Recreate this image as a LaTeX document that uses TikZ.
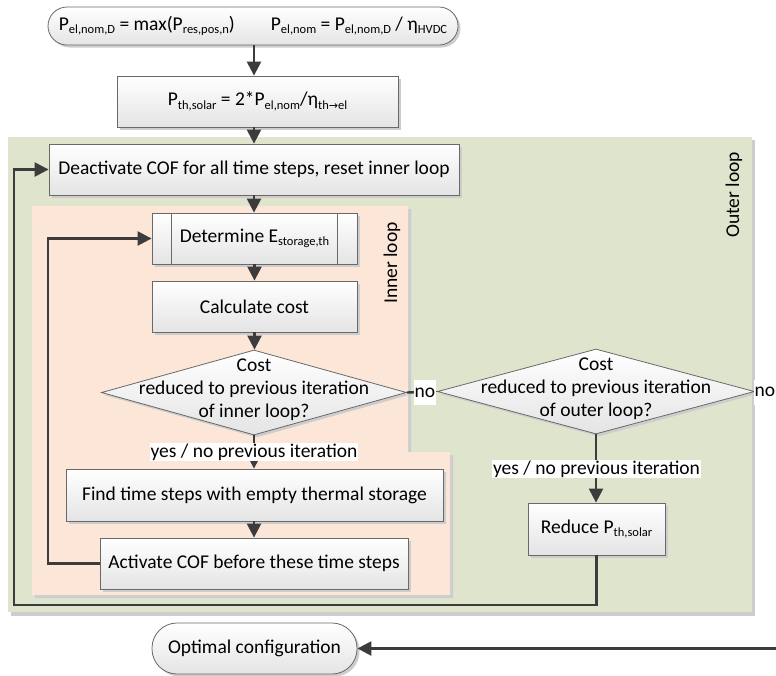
\documentclass[tikz,border=0pt]{standalone}
\usepackage{fontspec}
\setmainfont{Carlito}
\newfontfamily\djv{DejaVu Sans}
\usetikzlibrary{arrows.meta,shadows,calc,shapes.geometric}
\newcommand\subs[1]{\raisebox{-3.5pt}{\fontsize{12.5}{12.5}\selectfont #1}}
\definecolor{outerbg}{RGB}{223,228,205}
\definecolor{innerbg}{RGB}{251,230,216}
\definecolor{shadowgray}{RGB}{205,205,205}
\definecolor{boxborder}{RGB}{105,105,105}
\definecolor{boxbottom}{RGB}{228,228,228}
\definecolor{linegray}{RGB}{60,60,60}
\begin{document}
\begin{tikzpicture}[x=1pt,y=-1pt,
  font=\fontsize{19.5}{23}\selectfont,
  conn/.style={draw=linegray, line width=2.4pt},
  arr/.style={conn, -{Triangle[length=14pt,width=14pt]}},
  shd/.style={drop shadow={shadow xshift=2.5pt, shadow yshift=-2.5pt, fill=shadowgray, opacity=1}},
  box/.style={draw=boxborder, line width=0.8pt, top color=white, bottom color=boxbottom,
    inner sep=0pt, align=center, shd},
  term/.style={box, rounded corners=25pt},
  dec/.style={shape=diamond, draw=boxborder, line width=0.8pt, top color=white, bottom color=boxbottom,
    inner sep=0pt, shd},
  dectext/.style={align=center, inner sep=0pt},
  lab/.style={fill=white, inner sep=1pt},
  nolab/.style={fill=white, inner sep=0.5pt, minimum height=25pt},
  looplab/.style={rotate=90, inner sep=0pt}
]
\clip (0,0) rectangle (776,675);
\fill[white] (0,0) rectangle (776,675);
% regions
\fill[shadowgray] (11,140) rectangle (755,616);
\fill[outerbg] (8,137) rectangle (752,612);
\fill[shadowgray] (35,209) -- (411,209) -- (411,455) -- (453,455) -- (453,598) -- (35,598) -- cycle;
\fill[innerbg] (32,206) -- (408,206) -- (408,452) -- (450,452) -- (450,595) -- (32,595) -- cycle;
\node[looplab] (ol) at (734,195) {Outer loop};
\node[looplab] (il) at (392,263) {Inner loop};
% nodes
\node[term, minimum width=410, minimum height=38, rounded corners=19pt] (t1) at (253,26)
  {P\subs{el,nom,D} = max(P\subs{res,pos,n})\hspace{36pt}P\subs{el,nom} = P\subs{el,nom,D} / η\subs{HVDC}};
\node[box, minimum width=281, minimum height=51] (b2) at (257.5,101.5)
  {P\subs{th,solar} = 2*P\subs{el,nom}/η\subs{th{\djv\fontsize{11}{11}\selectfont →}el}};
\node[box, minimum width=410, minimum height=51] (deact) at (254,169.5)
  {Deactivate COF for all time steps, reset inner loop};
\node[box, minimum width=205, minimum height=51] (det) at (254.5,238.5)
  {Determine E\subs{storage,th}};
\draw[boxborder, line width=0.8pt] ($(det.north west)+(20,0)$) -- ($(det.south west)+(20,0)$)
  ($(det.north east)+(-20,0)$) -- ($(det.south east)+(-20,0)$);
\node[box, minimum width=205, minimum height=51] (calc) at (254.5,306.5) {Calculate cost};
\node[dec, minimum width=305, minimum height=85] (d1) at (254,392.5) {};
\node[dectext] (d1t) at (254,390) {Cost\\reduced to previous iteration\\of inner loop?};
\node[dec, minimum width=317, minimum height=85] (d2) at (596,391.5) {};
\node[dectext] (d2t) at (596,389) {Cost\\reduced to previous iteration\\of outer loop?};
\node[box, minimum width=377, minimum height=52] (find) at (254.5,495)
  {Find time steps with empty thermal storage};
\node[box, minimum width=308, minimum height=51] (act) at (254,563.5)
  {Activate COF before these time steps};
\node[box, minimum width=137, minimum height=52] (red) at (596.5,529)
  {Reduce P\subs{th,solar}};
\node[term, minimum width=205, minimum height=51] (opt) at (254.5,648.5) {Optimal configuration};
% helper coordinates
\coordinate (innerx) at (48,0);
\coordinate (outerx) at (14,0);
\coordinate (outery) at (0,605);
\coordinate (rightx) at (800,0);
% connectors
\draw[arr] (t1.south -| deact.north) -- (deact.north |- b2.north);
\draw[arr] (deact.north |- b2.south) -- (deact.north);
\draw[arr] (deact.south) -- (deact.south |- det.north);
\draw[arr] (det.south) -- (calc.north);
\draw[arr] (calc.south) -- (calc.south |- d1.north);
\draw[arr] (d1.south) -- (d1.south |- find.north);
\draw[arr] (find.south -| act.north) -- (act.north);
\draw[arr] (act.west) -- (innerx |- act.west) -- (innerx |- det.west) -- (det.west);
\draw[arr] (d1.east) -- (d2.west);
\draw[arr] (d2.south) -- (d2.south |- red.north);
\draw[arr] (red.south) -- (red.south |- outery) -- (outerx |- outery) -- (outerx |- deact.west) -- (deact.west);
\draw[arr] (d2.east) -- (rightx |- d2.east) -- (rightx |- opt.east) -- (opt.east);
% connector labels
\node[lab] (yes1) at (254,452) {yes / no previous iteration};
\node[lab] (yes2) at (596.5,469) {yes / no previous iteration};
\node[nolab] (no1) at (425,392.5) {no};
\node[nolab] (no2) at (765,392) {no};
\end{tikzpicture}
\end{document}
